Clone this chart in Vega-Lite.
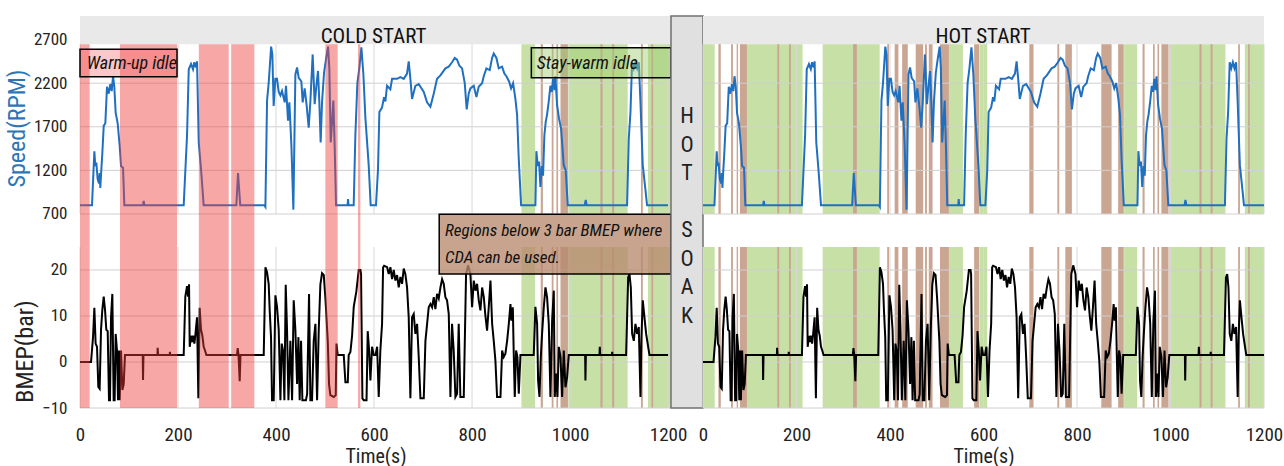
{
"$schema": "https://vega.github.io/schema/vega-lite/v6.json",
"background": "white",
"padding": {"left": 5, "top": 15, "right": 0, "bottom": 0},
"bounds": "flush",
"spacing": 0,
"config": {"view": {"stroke": null}, "font": "Liberation Sans Narrow, Roboto Condensed, DejaVu Sans Condensed, Liberation Sans",
 "axisX": {"titleFontSize": 20, "titleFontWeight": "normal", "titlePadding": 2, "titleColor": "#222", "labelFontSize": 19, "labelPadding": 17, "labelColor": "#222", "ticks": false, "domain": false, "grid": false, "labelFlush": false},
 "axisY": {"grid": false, "ticks": false, "domain": false, "labelFontSize": 17, "labelPadding": 13, "labelColor": "#222", "titleFontSize": 24, "titleFontWeight": "normal"}},
"datasets": {
"speed": [{"t":0,"rpm":800},{"t":24.5,"rpm":800},{"t":29.3,"rpm":1420},{"t":31.3,"rpm":1250},{"t":33.3,"rpm":1290},{"t":36,"rpm":1100},{"t":38.8,"rpm":1050},{"t":40.1,"rpm":1170},{"t":41.5,"rpm":1000},{"t":42.9,"rpm":1150},{"t":45.6,"rpm":1400},{"t":48.4,"rpm":1710},{"t":51.7,"rpm":1740},{"t":55.1,"rpm":2160},{"t":58.5,"rpm":2080},{"t":61.9,"rpm":2190},{"t":64.7,"rpm":2110},{"t":67.4,"rpm":2280},{"t":70,"rpm":2160},{"t":72.8,"rpm":1860},{"t":76.9,"rpm":1740},{"t":81,"rpm":1480},{"t":83.7,"rpm":1250},{"t":87.8,"rpm":1230},{"t":90.5,"rpm":800},{"t":128.5,"rpm":800},{"t":130,"rpm":850},{"t":131.5,"rpm":800},{"t":211.6,"rpm":800},{"t":218.4,"rpm":1600},{"t":221.9,"rpm":2360},{"t":226.6,"rpm":2420},{"t":230.6,"rpm":2360},{"t":233.3,"rpm":2440},{"t":236.8,"rpm":2380},{"t":238.8,"rpm":2450},{"t":242.3,"rpm":1520},{"t":247,"rpm":1210},{"t":252.4,"rpm":800},{"t":319,"rpm":800},{"t":322.5,"rpm":1170},{"t":327,"rpm":800},{"t":376,"rpm":800},{"t":378.3,"rpm":780},{"t":381.7,"rpm":2000},{"t":385,"rpm":2200},{"t":390,"rpm":2620},{"t":392.5,"rpm":2530},{"t":395.2,"rpm":1940},{"t":398.6,"rpm":2250},{"t":402,"rpm":2250},{"t":405.5,"rpm":2100},{"t":408.9,"rpm":2060},{"t":412.2,"rpm":2110},{"t":417.7,"rpm":1980},{"t":420.4,"rpm":2170},{"t":424.5,"rpm":1770},{"t":427.2,"rpm":1980},{"t":431.3,"rpm":1500},{"t":435.4,"rpm":750},{"t":439.5,"rpm":2300},{"t":442.9,"rpm":2380},{"t":446.3,"rpm":2260},{"t":451.7,"rpm":2220},{"t":454.4,"rpm":1980},{"t":458.5,"rpm":2140},{"t":462.6,"rpm":1940},{"t":466.7,"rpm":1690},{"t":470,"rpm":1980},{"t":474.8,"rpm":2530},{"t":478.9,"rpm":1960},{"t":482.3,"rpm":2170},{"t":485.7,"rpm":2340},{"t":488.4,"rpm":1980},{"t":491.1,"rpm":1520},{"t":493.9,"rpm":1980},{"t":498,"rpm":2320},{"t":502.1,"rpm":2480},{"t":506.2,"rpm":2620},{"t":508.8,"rpm":2370},{"t":511.6,"rpm":1520},{"t":514.3,"rpm":1750},{"t":517,"rpm":2000},{"t":519.8,"rpm":1450},{"t":522.5,"rpm":800},{"t":546,"rpm":800},{"t":547,"rpm":870},{"t":548,"rpm":800},{"t":558.5,"rpm":800},{"t":561.9,"rpm":1600},{"t":566,"rpm":2200},{"t":570.1,"rpm":2380},{"t":574.2,"rpm":2610},{"t":578.3,"rpm":2300},{"t":582.4,"rpm":1800},{"t":589.1,"rpm":1260},{"t":593.2,"rpm":800},{"t":604,"rpm":800},{"t":608.1,"rpm":1210},{"t":610.9,"rpm":1870},{"t":616.3,"rpm":1920},{"t":620.4,"rpm":2040},{"t":623.2,"rpm":1990},{"t":626.5,"rpm":2170},{"t":633.3,"rpm":2130},{"t":636.8,"rpm":2250},{"t":646.9,"rpm":2250},{"t":653.8,"rpm":2270},{"t":660.7,"rpm":2250},{"t":667.3,"rpm":2310},{"t":670.8,"rpm":2450},{"t":674.2,"rpm":2250},{"t":677.6,"rpm":2020},{"t":684.4,"rpm":2170},{"t":691.2,"rpm":2190},{"t":701.5,"rpm":2100},{"t":708.2,"rpm":1980},{"t":715,"rpm":1930},{"t":721.8,"rpm":2080},{"t":728.6,"rpm":2250},{"t":735.4,"rpm":2290},{"t":745.7,"rpm":2370},{"t":752.4,"rpm":2390},{"t":759.2,"rpm":2440},{"t":764.7,"rpm":2490},{"t":769.4,"rpm":2470},{"t":774.2,"rpm":2400},{"t":779.7,"rpm":2370},{"t":785.1,"rpm":2200},{"t":789.1,"rpm":1900},{"t":793.2,"rpm":2080},{"t":796.6,"rpm":2140},{"t":803.5,"rpm":2170},{"t":808.9,"rpm":2040},{"t":813.6,"rpm":2160},{"t":820.5,"rpm":2200},{"t":823.9,"rpm":2280},{"t":829.3,"rpm":2370},{"t":836.1,"rpm":2350},{"t":840.9,"rpm":2490},{"t":844.3,"rpm":2540},{"t":849.7,"rpm":2490},{"t":854.5,"rpm":2370},{"t":861.3,"rpm":2390},{"t":866,"rpm":2310},{"t":870.1,"rpm":2280},{"t":875.6,"rpm":2220},{"t":879.7,"rpm":2140},{"t":883.8,"rpm":2200},{"t":888.5,"rpm":2020},{"t":891.9,"rpm":1840},{"t":895.3,"rpm":1340},{"t":900.1,"rpm":800},{"t":929.3,"rpm":800},{"t":931.3,"rpm":1420},{"t":934.1,"rpm":1250},{"t":936.8,"rpm":1300},{"t":939.5,"rpm":1010},{"t":942.3,"rpm":1250},{"t":944.9,"rpm":1140},{"t":947.6,"rpm":1600},{"t":950.4,"rpm":1760},{"t":953.1,"rpm":1840},{"t":956.5,"rpm":1990},{"t":959.9,"rpm":2170},{"t":962.7,"rpm":2100},{"t":965.4,"rpm":2250},{"t":968.1,"rpm":2120},{"t":970.1,"rpm":2280},{"t":973.5,"rpm":1950},{"t":977.6,"rpm":1790},{"t":981.7,"rpm":1680},{"t":987.1,"rpm":1260},{"t":991.2,"rpm":1200},{"t":995.3,"rpm":800},{"t":1030,"rpm":800},{"t":1032,"rpm":860},{"t":1034,"rpm":800},{"t":1116.4,"rpm":800},{"t":1119.8,"rpm":1560},{"t":1123.3,"rpm":1870},{"t":1126.6,"rpm":2440},{"t":1130,"rpm":2370},{"t":1133.4,"rpm":2440},{"t":1136.8,"rpm":2370},{"t":1140.3,"rpm":2440},{"t":1143.7,"rpm":1980},{"t":1148.4,"rpm":1260},{"t":1153.8,"rpm":980},{"t":1157.2,"rpm":800},{"t":1200,"rpm":800}],
"bmep": [{"t":0,"bar":0},{"t":22.5,"bar":0},{"t":26.6,"bar":5.4},{"t":29.3,"bar":11.8},{"t":31.9,"bar":4},{"t":34.7,"bar":3.3},{"t":37.4,"bar":-5.4},{"t":40.1,"bar":-5.8},{"t":42.9,"bar":7},{"t":45.6,"bar":11.4},{"t":48.4,"bar":14.2},{"t":51,"bar":11.4},{"t":53.7,"bar":7},{"t":56.5,"bar":6.7},{"t":59.2,"bar":-8.3},{"t":61.2,"bar":-8.3},{"t":63.3,"bar":9.7},{"t":66,"bar":14.8},{"t":68.7,"bar":-8.3},{"t":70.7,"bar":-8.3},{"t":72.8,"bar":6.1},{"t":75.5,"bar":2.5},{"t":77.6,"bar":-8.3},{"t":79.6,"bar":2.5},{"t":81,"bar":-8.3},{"t":83.7,"bar":2.5},{"t":86.5,"bar":-6.1},{"t":89.2,"bar":-4.8},{"t":91.8,"bar":1.5},{"t":128,"bar":1.5},{"t":128.6,"bar":-3.9},{"t":129.5,"bar":1.5},{"t":158,"bar":1.5},{"t":158.5,"bar":3.1},{"t":159.5,"bar":1.5},{"t":183,"bar":1.5},{"t":183.5,"bar":2.2},{"t":184,"bar":1.5},{"t":211.6,"bar":1.5},{"t":212.9,"bar":6.3},{"t":214.9,"bar":14.2},{"t":218.4,"bar":16.5},{"t":220.5,"bar":14.2},{"t":222.5,"bar":16.9},{"t":223.9,"bar":3.3},{"t":226.6,"bar":5.7},{"t":228.6,"bar":4.3},{"t":230.7,"bar":5.7},{"t":233.4,"bar":4},{"t":235.5,"bar":6},{"t":238.8,"bar":9.7},{"t":241.5,"bar":-7.9},{"t":244.2,"bar":11.8},{"t":247,"bar":7},{"t":249.7,"bar":5.7},{"t":252.4,"bar":3.3},{"t":255.1,"bar":2.5},{"t":257.9,"bar":1.5},{"t":320.4,"bar":1.5},{"t":321.8,"bar":3},{"t":323.5,"bar":1.5},{"t":325.9,"bar":-4.2},{"t":327.5,"bar":1.5},{"t":374.9,"bar":1.5},{"t":378.4,"bar":20.6},{"t":381.7,"bar":19.5},{"t":385,"bar":17},{"t":387.1,"bar":11.2},{"t":389.8,"bar":5.4},{"t":391.9,"bar":-8.3},{"t":395.3,"bar":-8.3},{"t":398.7,"bar":14.5},{"t":402.1,"bar":12},{"t":405.5,"bar":7},{"t":409,"bar":-8.3},{"t":411.6,"bar":4},{"t":414.3,"bar":2.5},{"t":417.1,"bar":-8.3},{"t":419.8,"bar":16.8},{"t":422.5,"bar":7},{"t":425.3,"bar":-8.3},{"t":429.3,"bar":4.6},{"t":432.8,"bar":-8.3},{"t":436.1,"bar":13.4},{"t":439.5,"bar":7},{"t":443,"bar":-4.8},{"t":445.7,"bar":5.4},{"t":448.3,"bar":-8.3},{"t":451.1,"bar":4.6},{"t":453.8,"bar":-8.3},{"t":461,"bar":-8.3},{"t":463.5,"bar":-7},{"t":467.4,"bar":14.8},{"t":470.1,"bar":-8.3},{"t":473.5,"bar":-8.3},{"t":476.9,"bar":4.6},{"t":480.4,"bar":8.3},{"t":483.8,"bar":-8.3},{"t":487.2,"bar":7},{"t":490.5,"bar":16.8},{"t":493.9,"bar":19.3},{"t":497.4,"bar":18.9},{"t":500.8,"bar":13.8},{"t":502.8,"bar":10},{"t":505.6,"bar":4.6},{"t":508.2,"bar":-4.8},{"t":510.9,"bar":-7.2},{"t":517.8,"bar":-7.6},{"t":521.9,"bar":-7.2},{"t":523.3,"bar":4},{"t":525.9,"bar":1.5},{"t":538.2,"bar":1.5},{"t":541.6,"bar":-4.4},{"t":546.4,"bar":-4.4},{"t":548.3,"bar":1.5},{"t":551.8,"bar":2.2},{"t":555.2,"bar":5.7},{"t":558.6,"bar":12},{"t":564,"bar":15.4},{"t":568.8,"bar":20},{"t":572.2,"bar":20},{"t":573.5,"bar":19.1},{"t":576.3,"bar":-7.9},{"t":579,"bar":-8.3},{"t":584.7,"bar":-8.3},{"t":587.1,"bar":6.7},{"t":590,"bar":2.5},{"t":592.6,"bar":-4},{"t":596,"bar":3.3},{"t":599.4,"bar":1.5},{"t":603,"bar":1.5},{"t":606.3,"bar":3.3},{"t":609.6,"bar":-7.6},{"t":612.9,"bar":2.5},{"t":616.4,"bar":8.3},{"t":618.5,"bar":20.6},{"t":620.5,"bar":20.9},{"t":626.7,"bar":20.6},{"t":630,"bar":19.1},{"t":633.4,"bar":20.6},{"t":636.8,"bar":18},{"t":640.2,"bar":20},{"t":643.6,"bar":17.7},{"t":647,"bar":18.9},{"t":650.4,"bar":16.2},{"t":653.8,"bar":18.5},{"t":657.2,"bar":17},{"t":660.6,"bar":20.3},{"t":664,"bar":19.1},{"t":667.4,"bar":16.2},{"t":670.8,"bar":9.7},{"t":674.2,"bar":-7.9},{"t":677.6,"bar":9.7},{"t":681,"bar":10.4},{"t":684.4,"bar":6.1},{"t":687.9,"bar":8.3},{"t":691.2,"bar":1.1},{"t":694.7,"bar":-7.9},{"t":701.5,"bar":-7.9},{"t":704.9,"bar":4.6},{"t":708.3,"bar":8.3},{"t":711.6,"bar":11.9},{"t":715.1,"bar":12.6},{"t":718.5,"bar":11.9},{"t":721.9,"bar":14.1},{"t":725.2,"bar":11.5},{"t":728.6,"bar":14.8},{"t":732.1,"bar":13.8},{"t":735.5,"bar":16.2},{"t":738.9,"bar":18},{"t":742.2,"bar":17},{"t":745.6,"bar":14.1},{"t":749,"bar":13.4},{"t":752.5,"bar":10.4},{"t":755.9,"bar":-7.6},{"t":759.2,"bar":8.3},{"t":762.6,"bar":2.5},{"t":766.1,"bar":-7.6},{"t":769.5,"bar":-6.9},{"t":772.8,"bar":8.3},{"t":776.2,"bar":-7.6},{"t":783.1,"bar":-7.6},{"t":787.8,"bar":19.1},{"t":791.9,"bar":21},{"t":796.7,"bar":19.1},{"t":800.1,"bar":11.9},{"t":803.6,"bar":17.7},{"t":807,"bar":15.5},{"t":810.3,"bar":17},{"t":813.7,"bar":13.4},{"t":817.1,"bar":11.2},{"t":820.6,"bar":16.2},{"t":824,"bar":14.1},{"t":827.3,"bar":10},{"t":830.7,"bar":6.8},{"t":834.1,"bar":11.9},{"t":837.6,"bar":17.7},{"t":841,"bar":8.3},{"t":844.3,"bar":4.6},{"t":847.7,"bar":0.3},{"t":851.1,"bar":-7.6},{"t":858,"bar":-7.6},{"t":861.4,"bar":2.5},{"t":864.7,"bar":1.1},{"t":868.1,"bar":1.8},{"t":871.6,"bar":4.6},{"t":875,"bar":8.3},{"t":878.4,"bar":12.6},{"t":880.4,"bar":9},{"t":883.2,"bar":11.9},{"t":885.1,"bar":1.8},{"t":887.2,"bar":-7.6},{"t":889.9,"bar":2.5},{"t":892.6,"bar":1.1},{"t":895.4,"bar":-6.9},{"t":898.8,"bar":1.5},{"t":925.9,"bar":1.5},{"t":929.3,"bar":12},{"t":932.8,"bar":8.3},{"t":934.8,"bar":-4},{"t":937.6,"bar":-7.6},{"t":940.3,"bar":1.1},{"t":942.9,"bar":6.1},{"t":946.4,"bar":11.9},{"t":949.8,"bar":16.2},{"t":953.1,"bar":14.1},{"t":956.6,"bar":8.3},{"t":960,"bar":-7.6},{"t":963.4,"bar":8.9},{"t":966.8,"bar":15.5},{"t":968.8,"bar":-7.6},{"t":971.6,"bar":-2.5},{"t":974.3,"bar":-7.6},{"t":977,"bar":3.3},{"t":980.5,"bar":1.1},{"t":983.8,"bar":-7.6},{"t":987.2,"bar":2.5},{"t":990.6,"bar":-5.5},{"t":994,"bar":-3.3},{"t":997.4,"bar":1.5},{"t":1030.8,"bar":1.5},{"t":1031.4,"bar":-4},{"t":1032.3,"bar":1.5},{"t":1060,"bar":1.5},{"t":1060.7,"bar":3.3},{"t":1061.5,"bar":1.5},{"t":1085.5,"bar":1.5},{"t":1086,"bar":2.2},{"t":1086.6,"bar":1.5},{"t":1114.4,"bar":1.5},{"t":1118.6,"bar":18.4},{"t":1121.3,"bar":19.1},{"t":1124,"bar":16.2},{"t":1126.7,"bar":6.1},{"t":1130.1,"bar":4.6},{"t":1133.4,"bar":8.3},{"t":1136.8,"bar":6.1},{"t":1140.3,"bar":7.6},{"t":1143.7,"bar":-7.6},{"t":1145.7,"bar":5.4},{"t":1148.4,"bar":13.4},{"t":1152.5,"bar":9},{"t":1155.3,"bar":6.1},{"t":1159.4,"bar":3.3},{"t":1162.1,"bar":1.5},{"t":1200,"bar":1.5}],
"coldShade": [{"start":0,"end":19.7,"kind":"warm"},{"start":81.6,"end":198,"kind":"warm"},{"start":242.5,"end":303.5,"kind":"warm"},{"start":308.5,"end":355.8,"kind":"warm"},{"start":500.7,"end":525.8,"kind":"warm"},{"start":567.4,"end":572.1,"kind":"warm"},{"start":900.8,"end":928.7,"kind":"stay"},{"start":996.4,"end":1117.5,"kind":"stay"},{"start":1159,"end":1206,"kind":"stay"},{"start":940.2,"end":944.6,"kind":"cda"},{"start":962.6,"end":966.2,"kind":"cda"},{"start":972.2,"end":975.6,"kind":"cda"},{"start":980.5,"end":995.7,"kind":"cda"},{"start":1062,"end":1066.4,"kind":"cda"},{"start":1085.9,"end":1090,"kind":"cda"},{"start":1144.7,"end":1148.5,"kind":"cda"},{"start":1166,"end":1169.5,"kind":"cda"}],
"hotShade": [{"start":0,"end":25,"kind":"stay"},{"start":94,"end":213,"kind":"stay"},{"start":256,"end":378,"kind":"stay"},{"start":526,"end":556,"kind":"stay"},{"start":592,"end":608,"kind":"stay"},{"start":900.8,"end":928.7,"kind":"stay"},{"start":996.4,"end":1117.5,"kind":"stay"},{"start":1159,"end":1200,"kind":"stay"},{"start":33,"end":38,"kind":"cda"},{"start":60,"end":64,"kind":"cda"},{"start":72,"end":75,"kind":"cda"},{"start":79,"end":94,"kind":"cda"},{"start":159,"end":163,"kind":"cda"},{"start":184,"end":188,"kind":"cda"},{"start":321,"end":329,"kind":"cda"},{"start":394,"end":398,"kind":"cda"},{"start":410,"end":418,"kind":"cda"},{"start":426,"end":438,"kind":"cda"},{"start":455,"end":471,"kind":"cda"},{"start":475,"end":479,"kind":"cda"},{"start":483,"end":491,"kind":"cda"},{"start":507,"end":526,"kind":"cda"},{"start":580,"end":591,"kind":"cda"},{"start":698,"end":707,"kind":"cda"},{"start":758,"end":762,"kind":"cda"},{"start":775,"end":789,"kind":"cda"},{"start":852,"end":874,"kind":"cda"},{"start":888,"end":900,"kind":"cda"},{"start":940.2,"end":944.6,"kind":"cda"},{"start":962.6,"end":966.2,"kind":"cda"},{"start":972.2,"end":975.6,"kind":"cda"},{"start":980.5,"end":995.7,"kind":"cda"},{"start":1062,"end":1066.4,"kind":"cda"},{"start":1085.9,"end":1090,"kind":"cda"},{"start":1144.7,"end":1148.5,"kind":"cda"},{"start":1166,"end":1169.5,"kind":"cda"}],
"vgrid": [{"t":0},{"t":200},{"t":400},{"t":600},{"t":800},{"t":1000},{"t":1200}],
"hgridSpeed": [{"v":700},{"v":1200},{"v":1700},{"v":2200}],
"hgridBmep": [{"v":-10},{"v":0},{"v":10},{"v":20}],
"one": [{}]
},
"hconcat": [
{
"width": 591, "height": 392,
"resolve": {"scale": {"y": "independent"}},
"layer": [
{"layer": [
{"data": {"name": "one"}, "mark": {"type": "rect", "fill": "#e9e9e9"},
 "encoding": {"x": {"datum": 0, "type": "quantitative", "title": "Time(s)", "scale": {"domain": [0, 1206], "nice": false, "zero": false}}, "x2": {"datum": 1206},
 "y": {"datum": 2648, "type": "quantitative", "title": "Speed(RPM)", "scale": {"domain": [-1525, 2970.6], "nice": false, "zero": false}}, "y2": {"datum": 2970.6}}},
{"data": {"name": "coldShade"}, "transform": [{"filter": "datum.kind === 'stay'"}], "mark": {"type": "rect", "fill": "#c6e0a6"},
 "encoding": {"x": {"field": "start", "type": "quantitative", "title": "Time(s)", "scale": {"domain": [0, 1206], "nice": false, "zero": false}}, "x2": {"field": "end"},
 "y": {"datum": 700, "type": "quantitative", "title": "Speed(RPM)", "scale": {"domain": [-1525, 2970.6], "nice": false, "zero": false}}, "y2": {"datum": 2648}}},
{"data": {"name": "coldShade"}, "transform": [{"filter": "datum.kind === 'cda'"}], "mark": {"type": "rect", "fill": "#c9a592"},
 "encoding": {"x": {"field": "start", "type": "quantitative", "title": "Time(s)", "scale": {"domain": [0, 1206], "nice": false, "zero": false}}, "x2": {"field": "end"},
 "y": {"datum": 700, "type": "quantitative", "title": "Speed(RPM)", "scale": {"domain": [-1525, 2970.6], "nice": false, "zero": false}}, "y2": {"datum": 2648}}},
{"data": {"name": "hgridSpeed"}, "mark": {"type": "rule", "color": "#d0d0d0", "strokeWidth": 1},
 "encoding": {"y": {"field": "v", "type": "quantitative", "title": "Speed(RPM)", "scale": {"domain": [-1525, 2970.6], "nice": false, "zero": false}}}},
{"data": {"name": "vgrid"}, "mark": {"type": "rule", "color": "#d8d8d8", "strokeWidth": 1},
 "encoding": {"x": {"field": "t", "type": "quantitative", "title": "Time(s)", "scale": {"domain": [0, 1206], "nice": false, "zero": false}},
 "y": {"datum": 700, "type": "quantitative", "title": "Speed(RPM)", "scale": {"domain": [-1525, 2970.6], "nice": false, "zero": false}}, "y2": {"datum": 2648}}},
{"data": {"name": "speed"}, "mark": {"type": "line", "color": "#1f70c1", "strokeWidth": 2},
 "encoding": {"x": {"field": "t", "type": "quantitative", "title": "Time(s)", "scale": {"domain": [0, 1206], "nice": false, "zero": false}, "axis": {"values": [0, 200, 400, 600, 800, 1000, 1200], "format": "d"}},
 "y": {"field": "rpm", "type": "quantitative", "title": "Speed(RPM)", "scale": {"domain": [-1525, 2970.6], "nice": false, "zero": false},
   "axis": {"orient": "left", "values": [700, 1200, 1700, 2200, 2700], "format": "d", "titleColor": "#2e75b6", "titleY": 112}}}}
]},
{"layer": [
{"data": {"name": "coldShade"}, "transform": [{"filter": "datum.kind === 'stay'"}], "mark": {"type": "rect", "fill": "#c6e0a6"},
 "encoding": {"x": {"field": "start", "type": "quantitative", "title": "Time(s)", "scale": {"domain": [0, 1206], "nice": false, "zero": false}}, "x2": {"field": "end"},
 "y": {"datum": -10, "type": "quantitative", "title": "BMEP(bar)", "scale": {"domain": [-10, 75.2], "nice": false, "zero": false}}, "y2": {"datum": 25}}},
{"data": {"name": "coldShade"}, "transform": [{"filter": "datum.kind === 'cda'"}], "mark": {"type": "rect", "fill": "#c9a592"},
 "encoding": {"x": {"field": "start", "type": "quantitative", "title": "Time(s)", "scale": {"domain": [0, 1206], "nice": false, "zero": false}}, "x2": {"field": "end"},
 "y": {"datum": -10, "type": "quantitative", "title": "BMEP(bar)", "scale": {"domain": [-10, 75.2], "nice": false, "zero": false}}, "y2": {"datum": 25}}},
{"data": {"name": "hgridBmep"}, "mark": {"type": "rule", "color": "#d0d0d0", "strokeWidth": 1},
 "encoding": {"y": {"field": "v", "type": "quantitative", "title": "BMEP(bar)", "scale": {"domain": [-10, 75.2], "nice": false, "zero": false}}}},
{"data": {"name": "vgrid"}, "mark": {"type": "rule", "color": "#d8d8d8", "strokeWidth": 1},
 "encoding": {"x": {"field": "t", "type": "quantitative", "title": "Time(s)", "scale": {"domain": [0, 1206], "nice": false, "zero": false}},
 "y": {"datum": -10, "type": "quantitative", "title": "BMEP(bar)", "scale": {"domain": [-10, 75.2], "nice": false, "zero": false}}, "y2": {"datum": 25}}},
{"data": {"name": "bmep"}, "mark": {"type": "line", "color": "#000000", "strokeWidth": 2},
 "encoding": {"x": {"field": "t", "type": "quantitative", "title": "Time(s)", "scale": {"domain": [0, 1206], "nice": false, "zero": false}},
 "y": {"field": "bar", "type": "quantitative", "title": "BMEP(bar)", "scale": {"domain": [-10, 75.2], "nice": false, "zero": false},
   "axis": {"orient": "left", "values": [-10, 0, 10, 20], "format": "d", "titleColor": "#222", "titleY": 335}}}},
{"data": {"name": "one"}, "mark": {"type": "rect", "fill": "#b98a70", "fillOpacity": 0.78, "stroke": "#000000", "strokeWidth": 1.5},
 "encoding": {"x": {"datum": 733, "type": "quantitative", "title": "Time(s)", "scale": {"domain": [0, 1206], "nice": false, "zero": false}}, "x2": {"datum": 1206},
 "y": {"datum": 19.1, "type": "quantitative", "title": "BMEP(bar)", "scale": {"domain": [-10, 75.2], "nice": false, "zero": false}}, "y2": {"datum": 32.1}}},
{"data": {"name": "one"}, "mark": {"type": "text", "text": "Regions below 3 bar BMEP where", "align": "left", "baseline": "middle", "fontSize": 17, "fontStyle": "italic", "color": "#111"},
 "encoding": {"x": {"datum": 745, "type": "quantitative", "title": "Time(s)", "scale": {"domain": [0, 1206], "nice": false, "zero": false}},
 "y": {"datum": 28.4, "type": "quantitative", "title": "BMEP(bar)", "scale": {"domain": [-10, 75.2], "nice": false, "zero": false}}}},
{"data": {"name": "one"}, "mark": {"type": "text", "text": "CDA can be used.", "align": "left", "baseline": "middle", "fontSize": 17, "fontStyle": "italic", "color": "#111"},
 "encoding": {"x": {"datum": 745, "type": "quantitative", "title": "Time(s)", "scale": {"domain": [0, 1206], "nice": false, "zero": false}},
 "y": {"datum": 22.7, "type": "quantitative", "title": "BMEP(bar)", "scale": {"domain": [-10, 75.2], "nice": false, "zero": false}}}}
]},
{"layer": [
{"data": {"name": "coldShade"}, "transform": [{"filter": "datum.kind === 'warm'"}], "mark": {"type": "rect", "fill": "#f03c3c", "fillOpacity": 0.45},
 "encoding": {"x": {"field": "start", "type": "quantitative", "title": "Time(s)", "scale": {"domain": [0, 1206], "nice": false, "zero": false}}, "x2": {"field": "end"},
 "y": {"datum": -1525, "type": "quantitative", "scale": {"domain": [-1525, 2970.6], "nice": false, "zero": false}, "axis": null}, "y2": {"datum": 2648}}},
{"data": {"name": "one"}, "mark": {"type": "rect", "fill": "#f06060", "fillOpacity": 0.35, "stroke": "#000000", "strokeWidth": 1.5},
 "encoding": {"x": {"datum": 0, "type": "quantitative", "title": "Time(s)", "scale": {"domain": [0, 1206], "nice": false, "zero": false}}, "x2": {"datum": 198},
 "y": {"datum": 2273, "type": "quantitative", "scale": {"domain": [-1525, 2970.6], "nice": false, "zero": false}, "axis": null}, "y2": {"datum": 2588}}},
{"data": {"name": "one"}, "mark": {"type": "text", "text": "Warm-up idle", "align": "left", "baseline": "middle", "fontSize": 18, "fontStyle": "italic", "color": "#111"},
 "encoding": {"x": {"datum": 14, "type": "quantitative", "title": "Time(s)", "scale": {"domain": [0, 1206], "nice": false, "zero": false}},
 "y": {"datum": 2425, "type": "quantitative", "scale": {"domain": [-1525, 2970.6], "nice": false, "zero": false}, "axis": null}}},
{"data": {"name": "one"}, "mark": {"type": "rect", "fill": "#9dcc72", "fillOpacity": 0.45, "stroke": "#000000", "strokeWidth": 1.5},
 "encoding": {"x": {"datum": 921, "type": "quantitative", "title": "Time(s)", "scale": {"domain": [0, 1206], "nice": false, "zero": false}}, "x2": {"datum": 1206},
 "y": {"datum": 2262, "type": "quantitative", "scale": {"domain": [-1525, 2970.6], "nice": false, "zero": false}, "axis": null}, "y2": {"datum": 2606}}},
{"data": {"name": "one"}, "mark": {"type": "text", "text": "Stay-warm idle", "align": "left", "baseline": "middle", "fontSize": 18, "fontStyle": "italic", "color": "#111"},
 "encoding": {"x": {"datum": 932, "type": "quantitative", "title": "Time(s)", "scale": {"domain": [0, 1206], "nice": false, "zero": false}},
 "y": {"datum": 2425, "type": "quantitative", "scale": {"domain": [-1525, 2970.6], "nice": false, "zero": false}, "axis": null}}},
{"data": {"name": "one"}, "mark": {"type": "text", "text": "COLD START", "align": "center", "baseline": "alphabetic", "fontSize": 21, "color": "#111"},
 "encoding": {"x": {"datum": 599, "type": "quantitative", "title": "Time(s)", "scale": {"domain": [0, 1206], "nice": false, "zero": false}},
 "y": {"datum": 2660, "type": "quantitative", "scale": {"domain": [-1525, 2970.6], "nice": false, "zero": false}, "axis": null}}}
]}
]
},
{
"width": 32, "height": 392,
"view": {"fill": "#e0e0e0", "stroke": "#707070", "strokeWidth": 1.5},
"data": {"values": [{"c": "H", "i": 0}, {"c": "O", "i": 1}, {"c": "T", "i": 2}, {"c": "S", "i": 4}, {"c": "O", "i": 5}, {"c": "A", "i": 6}, {"c": "K", "i": 7}]},
"mark": {"type": "text", "fontSize": 22, "color": "#222", "baseline": "middle"},
"encoding": {"y": {"field": "i", "type": "quantitative", "scale": {"domain": [-3.5, 10.22], "reverse": true, "nice": false, "zero": false}, "axis": null}, "text": {"field": "c"}}
},
{
"width": 561, "height": 392,
"resolve": {"scale": {"y": "independent"}},
"layer": [
{"layer": [
{"data": {"name": "one"}, "mark": {"type": "rect", "fill": "#e9e9e9"},
 "encoding": {"x": {"datum": 0, "type": "quantitative", "title": "Time(s)", "scale": {"domain": [0, 1200], "nice": false, "zero": false}}, "x2": {"datum": 1200},
 "y": {"datum": 2648, "type": "quantitative", "scale": {"domain": [-1525, 2970.6], "nice": false, "zero": false}, "axis": null}, "y2": {"datum": 2970.6}}},
{"data": {"name": "hotShade"}, "transform": [{"filter": "datum.kind === 'stay'"}], "mark": {"type": "rect", "fill": "#c6e0a6"},
 "encoding": {"x": {"field": "start", "type": "quantitative", "title": "Time(s)", "scale": {"domain": [0, 1200], "nice": false, "zero": false}}, "x2": {"field": "end"},
 "y": {"datum": 700, "type": "quantitative", "scale": {"domain": [-1525, 2970.6], "nice": false, "zero": false}, "axis": null}, "y2": {"datum": 2648}}},
{"data": {"name": "hotShade"}, "transform": [{"filter": "datum.kind === 'cda'"}], "mark": {"type": "rect", "fill": "#c9a592"},
 "encoding": {"x": {"field": "start", "type": "quantitative", "title": "Time(s)", "scale": {"domain": [0, 1200], "nice": false, "zero": false}}, "x2": {"field": "end"},
 "y": {"datum": 700, "type": "quantitative", "scale": {"domain": [-1525, 2970.6], "nice": false, "zero": false}, "axis": null}, "y2": {"datum": 2648}}},
{"data": {"name": "hgridSpeed"}, "mark": {"type": "rule", "color": "#d0d0d0", "strokeWidth": 1},
 "encoding": {"y": {"field": "v", "type": "quantitative", "scale": {"domain": [-1525, 2970.6], "nice": false, "zero": false}, "axis": null}}},
{"data": {"name": "vgrid"}, "mark": {"type": "rule", "color": "#d8d8d8", "strokeWidth": 1},
 "encoding": {"x": {"field": "t", "type": "quantitative", "title": "Time(s)", "scale": {"domain": [0, 1200], "nice": false, "zero": false}},
 "y": {"datum": 700, "type": "quantitative", "scale": {"domain": [-1525, 2970.6], "nice": false, "zero": false}, "axis": null}, "y2": {"datum": 2648}}},
{"data": {"name": "speed"}, "mark": {"type": "line", "color": "#1f70c1", "strokeWidth": 2},
 "encoding": {"x": {"field": "t", "type": "quantitative", "title": "Time(s)", "scale": {"domain": [0, 1200], "nice": false, "zero": false}, "axis": {"values": [0, 200, 400, 600, 800, 1000, 1200], "format": "d"}},
 "y": {"field": "rpm", "type": "quantitative", "scale": {"domain": [-1525, 2970.6], "nice": false, "zero": false}, "axis": null}}},
{"data": {"name": "one"}, "mark": {"type": "text", "text": "HOT START", "align": "center", "baseline": "alphabetic", "fontSize": 21, "color": "#111"},
 "encoding": {"x": {"datum": 599, "type": "quantitative", "title": "Time(s)", "scale": {"domain": [0, 1200], "nice": false, "zero": false}},
 "y": {"datum": 2660, "type": "quantitative", "scale": {"domain": [-1525, 2970.6], "nice": false, "zero": false}, "axis": null}}}
]},
{"layer": [
{"data": {"name": "hotShade"}, "transform": [{"filter": "datum.kind === 'stay'"}], "mark": {"type": "rect", "fill": "#c6e0a6"},
 "encoding": {"x": {"field": "start", "type": "quantitative", "title": "Time(s)", "scale": {"domain": [0, 1200], "nice": false, "zero": false}}, "x2": {"field": "end"},
 "y": {"datum": -10, "type": "quantitative", "scale": {"domain": [-10, 75.2], "nice": false, "zero": false}, "axis": null}, "y2": {"datum": 25}}},
{"data": {"name": "hotShade"}, "transform": [{"filter": "datum.kind === 'cda'"}], "mark": {"type": "rect", "fill": "#c9a592"},
 "encoding": {"x": {"field": "start", "type": "quantitative", "title": "Time(s)", "scale": {"domain": [0, 1200], "nice": false, "zero": false}}, "x2": {"field": "end"},
 "y": {"datum": -10, "type": "quantitative", "scale": {"domain": [-10, 75.2], "nice": false, "zero": false}, "axis": null}, "y2": {"datum": 25}}},
{"data": {"name": "hgridBmep"}, "mark": {"type": "rule", "color": "#d0d0d0", "strokeWidth": 1},
 "encoding": {"y": {"field": "v", "type": "quantitative", "scale": {"domain": [-10, 75.2], "nice": false, "zero": false}, "axis": null}}},
{"data": {"name": "vgrid"}, "mark": {"type": "rule", "color": "#d8d8d8", "strokeWidth": 1},
 "encoding": {"x": {"field": "t", "type": "quantitative", "title": "Time(s)", "scale": {"domain": [0, 1200], "nice": false, "zero": false}},
 "y": {"datum": -10, "type": "quantitative", "scale": {"domain": [-10, 75.2], "nice": false, "zero": false}, "axis": null}, "y2": {"datum": 25}}},
{"data": {"name": "bmep"}, "mark": {"type": "line", "color": "#000000", "strokeWidth": 2},
 "encoding": {"x": {"field": "t", "type": "quantitative", "title": "Time(s)", "scale": {"domain": [0, 1200], "nice": false, "zero": false}},
 "y": {"field": "bar", "type": "quantitative", "scale": {"domain": [-10, 75.2], "nice": false, "zero": false}, "axis": null}}}
]}
]
}
]
}
